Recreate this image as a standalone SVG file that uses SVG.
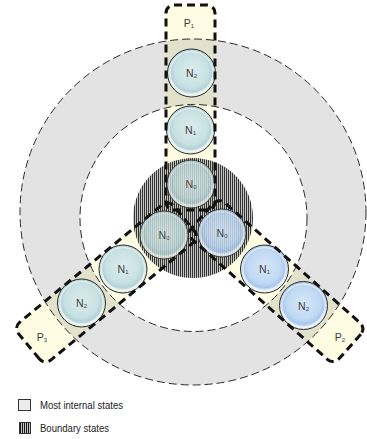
<svg xmlns="http://www.w3.org/2000/svg" width="367" height="439" viewBox="0 0 367 439">
<style>
.band{fill:#fefde4;}
.bandline{fill:none;stroke:#111;stroke-width:3;stroke-dasharray:8 5;}
.ringline{fill:none;stroke:#2a2a2a;stroke-width:1;stroke-dasharray:8 4;}
.node{stroke:#2a2a2a;stroke-width:1;}
.teal{fill:url(#gTeal);}
.blue{fill:url(#gBlue);}
.rim{fill:none;stroke:#ffffff;stroke-opacity:0.55;stroke-width:1.5;}
.lbl{font-family:"Liberation Sans",Arial,sans-serif;font-size:10.5px;fill:#3a3a3a;text-anchor:middle;}
.sub{font-size:6px;}
.leg{font-family:"Liberation Sans",Arial,sans-serif;font-size:10px;fill:#222;}
</style>
<defs>
<radialGradient id="gTeal" cx="50%" cy="45%" r="50%">
<stop offset="0" stop-color="#dcecec"/>
<stop offset="0.7" stop-color="#c8e1e3"/>
<stop offset="0.88" stop-color="#b3d3d8"/>
<stop offset="1" stop-color="#e4efe9"/>
</radialGradient>
<radialGradient id="gBlue" cx="50%" cy="45%" r="50%">
<stop offset="0" stop-color="#d6e7f9"/>
<stop offset="0.7" stop-color="#c0d9f3"/>
<stop offset="0.88" stop-color="#a8c8ec"/>
<stop offset="1" stop-color="#e2edf8"/>
</radialGradient>
<pattern id="hatch" width="2" height="10" patternUnits="userSpaceOnUse">
<rect width="2" height="10" fill="#8a8a8a" fill-opacity="0.5"/>
<rect width="1" height="10" fill="#1a1a1a" fill-opacity="0.85"/>
</pattern>
<pattern id="hatchLeg" width="2" height="10" patternUnits="userSpaceOnUse">
<rect width="2" height="10" fill="#c4c4c4"/>
<rect width="1" height="10" fill="#1a1a1a"/>
</pattern>
</defs>

<!-- band fills -->
<g id="bandFills">
<rect class="band" x="166" y="5" width="49" height="205" rx="8"/>
<rect class="band" x="-24.5" y="-175" width="49" height="201" rx="8" transform="translate(164,235) rotate(-129.5)"/>
<rect class="band" x="-24.5" y="-171" width="49" height="197" rx="8" transform="translate(222,233) rotate(131.6)"/>
</g>

<!-- ring of most internal states -->
<g id="ring">
<path fill="#000" fill-opacity="0.11" fill-rule="evenodd" d="M20,212 a173,173 0 1,0 346,0 a173,173 0 1,0 -346,0 Z M80,218 a113.5,113.5 0 1,0 227,0 a113.5,113.5 0 1,0 -227,0 Z"/>
<circle class="ringline" cx="193" cy="212" r="173"/>
<circle class="ringline" cx="193.5" cy="218" r="113.5"/>
</g>

<!-- boundary states -->
<g id="boundary">
<circle cx="193" cy="218" r="60" fill="url(#hatch)"/>
</g>

<!-- nodes -->
<g id="p1-n2"><circle class="node teal" cx="191.5" cy="73" r="24"/><circle class="rim" cx="191.5" cy="73" r="21.5"/><text class="lbl" x="191.5" y="77">N<tspan class="sub" dy="1">2</tspan></text></g>
<g id="p1-n1"><circle class="node teal" cx="190.5" cy="130" r="24"/><circle class="rim" cx="190.5" cy="130" r="21.5"/><text class="lbl" x="190.5" y="134">N<tspan class="sub" dy="1">1</tspan></text></g>
<g id="p1-n0" opacity="0.8"><circle class="node teal" cx="191" cy="184" r="24"/><circle class="rim" cx="191" cy="184" r="21.5"/><text class="lbl" x="191" y="188">N<tspan class="sub" dy="1">0</tspan></text></g>
<g id="p3-n0" opacity="0.8"><circle class="node teal" cx="164" cy="235" r="24"/><circle class="rim" cx="164" cy="235" r="21.5"/><text class="lbl" x="164" y="239">N<tspan class="sub" dy="1">0</tspan></text></g>
<g id="p3-n1"><circle class="node teal" cx="123" cy="269" r="24"/><circle class="rim" cx="123" cy="269" r="21.5"/><text class="lbl" x="123" y="273">N<tspan class="sub" dy="1">1</tspan></text></g>
<g id="p3-n2"><circle class="node teal" cx="81.5" cy="303" r="24"/><circle class="rim" cx="81.5" cy="303" r="21.5"/><text class="lbl" x="81.5" y="307">N<tspan class="sub" dy="1">2</tspan></text></g>
<g id="p2-n0" opacity="0.85"><circle class="node blue" cx="222" cy="233" r="24"/><circle class="rim" cx="222" cy="233" r="21.5"/><text class="lbl" x="222" y="237">N<tspan class="sub" dy="1">0</tspan></text></g>
<g id="p2-n1"><circle class="node blue" cx="264.5" cy="269" r="24"/><circle class="rim" cx="264.5" cy="269" r="21.5"/><text class="lbl" x="264.5" y="273">N<tspan class="sub" dy="1">1</tspan></text></g>
<g id="p2-n2"><circle class="node blue" cx="303.5" cy="305.5" r="24"/><circle class="rim" cx="303.5" cy="305.5" r="21.5"/><text class="lbl" x="303.5" y="309.5">N<tspan class="sub" dy="1">2</tspan></text></g>

<!-- path outlines (connectors group) -->
<g id="paths">
<g id="P1"><rect class="bandline" x="166" y="5" width="49" height="205" rx="8"/><text class="lbl" x="189" y="27">P<tspan class="sub" dy="1">1</tspan></text></g>
<g id="P3"><rect class="bandline" x="-24.5" y="-175" width="49" height="201" rx="8" transform="translate(164,235) rotate(-129.5)"/><text class="lbl" x="42" y="341">P<tspan class="sub" dy="1">3</tspan></text></g>
<g id="P2"><rect class="bandline" x="-24.5" y="-171" width="49" height="197" rx="8" transform="translate(222,233) rotate(131.6)"/><text class="lbl" x="340" y="341">P<tspan class="sub" dy="1">2</tspan></text></g>
</g>

<!-- legend -->
<g id="legend">
<rect x="18.5" y="399.5" width="12" height="11" fill="#ececec" stroke="#333" stroke-width="1"/>
<text class="leg" x="40" y="409" textLength="83" lengthAdjust="spacingAndGlyphs">Most internal states</text>
<rect x="19.5" y="422.5" width="11" height="11" fill="url(#hatchLeg)" stroke="#333" stroke-width="1"/>
<text class="leg" x="40" y="432" textLength="69" lengthAdjust="spacingAndGlyphs">Boundary states</text>
</g>
</svg>
